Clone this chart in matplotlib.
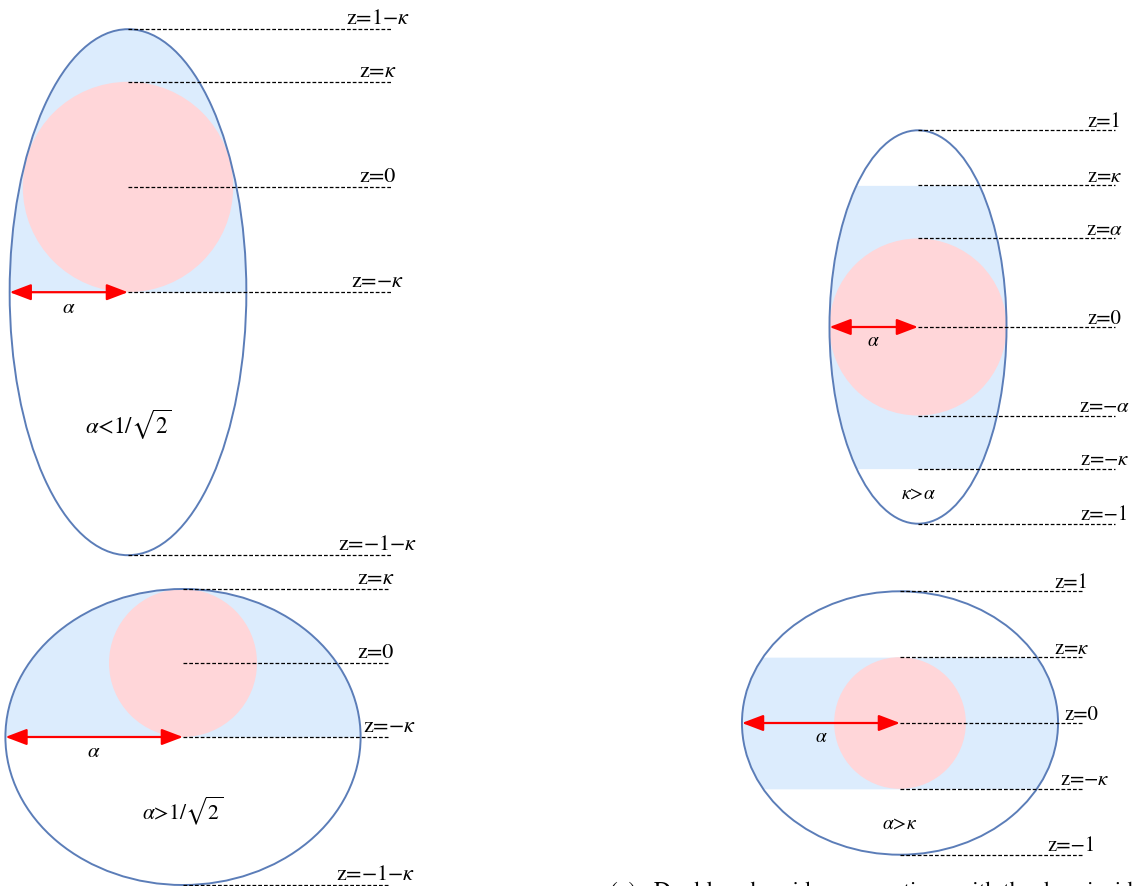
import numpy as np
import matplotlib.pyplot as plt
from matplotlib.patches import Ellipse, Circle, ArrowStyle

plt.rcParams['font.family'] = ['STIXGeneral', 'DejaVu Serif']
plt.rcParams['mathtext.fontset'] = 'stix'

W, H = 1138, 886

# spheroid parameters: semi-axis alpha across, 1 along z; drop radius kappa
alpha = [0.45, 1.2, 0.45, 1.2]
kappa = [0.4, 0.5, 0.72, 0.5]
shifted = [True, True, False, False]   # spheroid centre sits at z = -kappa

# levels marked with dashed lines, top to bottom
levels = [
    [1 - kappa[0], kappa[0], 0, -kappa[0], -1 - kappa[0]],
    [kappa[1], 0, -kappa[1], -1 - kappa[1]],
    [1, kappa[2], alpha[2], 0, -alpha[2], -kappa[2], -1],
    [1, kappa[3], 0, -kappa[3], -1],
]
level_text = [
    ['z=1−$\\kappa$', 'z=$\\kappa$', 'z=0', 'z=−$\\kappa$', 'z=−1−$\\kappa$'],
    ['z=$\\kappa$', 'z=0', 'z=−$\\kappa$', 'z=−1−$\\kappa$'],
    ['z=1', 'z=$\\kappa$', 'z=$\\alpha$', 'z=0', 'z=−$\\alpha$', 'z=−$\\kappa$', 'z=−1'],
    ['z=1', 'z=$\\kappa$', 'z=0', 'z=−$\\kappa$', 'z=−1'],
]
regime_text = ['$\\alpha$<1/$\\sqrt{2}$', '$\\alpha$>1/$\\sqrt{2}$',
               '$\\kappa$>$\\alpha$', '$\\alpha$>$\\kappa$']
caption = '(c)   Double spheroid cross-sections with the drop inside'

# where each sketch goes on the page (pixels of z=0 on the axis, px per unit)
centre_px = [(128, 187), (183, 663), (918, 327), (900, 723)]
scale_px = [263, 148, 196.7, 131.7]
line_end = [1.0, 1.39, 1.0, 1.40]
label_x = [0.95, 1.30, 0.95, 1.30]
label_dx = [[0, 0, 0, 0, 0], [0, 0, 10, 0], [0, 0, 0, 0, 0, 0, 0], [0, 0, 7, 10, 0]]
label_fs = [16, 16, 15, 15]
label_dy = [3.5, 3.5, 2.5, 2.5]
regime_z = [-0.905, -1.0, -0.85, -0.77]
regime_fs = [16.5, 15.5, 14, 14]
alpha_fs = [15, 15, 14, 14]

edge_col = '#5b7db8'
blue_col = '#dcecfd'
pink_col = '#ffd6d9'

fig = plt.figure(figsize=(W / 100, H / 100), dpi=100)

for i in range(4):
    cx, cy = centre_px[i]
    s = scale_px[i]
    ax = fig.add_axes([0, 0, 1, 1])
    ax.set_xlim(-cx / s, (W - cx) / s)
    ax.set_ylim(-(H - cy) / s, cy / s)
    ax.axis('off')
    ax.patch.set_visible(False)

    a, k = alpha[i], kappa[i]
    zc = -k if shifted[i] else 0.0
    z_hi = 1 + zc if shifted[i] else k

    # shaded part of the spheroid
    zz = np.linspace(-k, z_hi, 500)
    half = a * np.sqrt(np.clip(1 - (zz - zc) ** 2, 0, None))
    ax.fill_betweenx(zz, -half, half, color=blue_col, lw=0, zorder=1)

    # the drop
    ax.add_patch(Circle((0, 0), min(a, k), color=pink_col, lw=0, zorder=2))

    # outline
    ax.add_patch(Ellipse((0, zc), 2 * a, 2, fill=False, ec=edge_col, lw=1.4, zorder=3))

    for z, t, dx in zip(levels[i], level_text[i], label_dx[i]):
        ax.plot([0, line_end[i]], [z, z], color='black', lw=0.9,
                ls=(0, (3.0, 1.6)), zorder=4)
        ax.annotate(t, (label_x[i], z), xytext=(dx, label_dy[i]), textcoords='offset points',
                    ha='center', va='baseline', fontsize=label_fs[i], zorder=5)

    # radius arrow
    ax.annotate('', xy=(-a, zc), xytext=(0, zc),
                arrowprops=dict(arrowstyle=ArrowStyle('<|-|>', head_length=1.0, head_width=0.38),
                                mutation_scale=13, color='red', lw=1.6,
                                shrinkA=0, shrinkB=0), zorder=6)
    ax.annotate('$\\alpha$', (-a / 2, zc), xytext=(0, -4), textcoords='offset points',
                ha='center', va='top', fontsize=alpha_fs[i], zorder=6)

    ax.text(0, regime_z[i], regime_text[i], ha='center', va='center',
            fontsize=regime_fs[i], zorder=6)

# figure caption runs off the bottom edge of the page
fig.text(610 / W, -12 / H, caption, ha='left', va='baseline', fontsize=17)

fig.savefig('out.png', dpi=100)
